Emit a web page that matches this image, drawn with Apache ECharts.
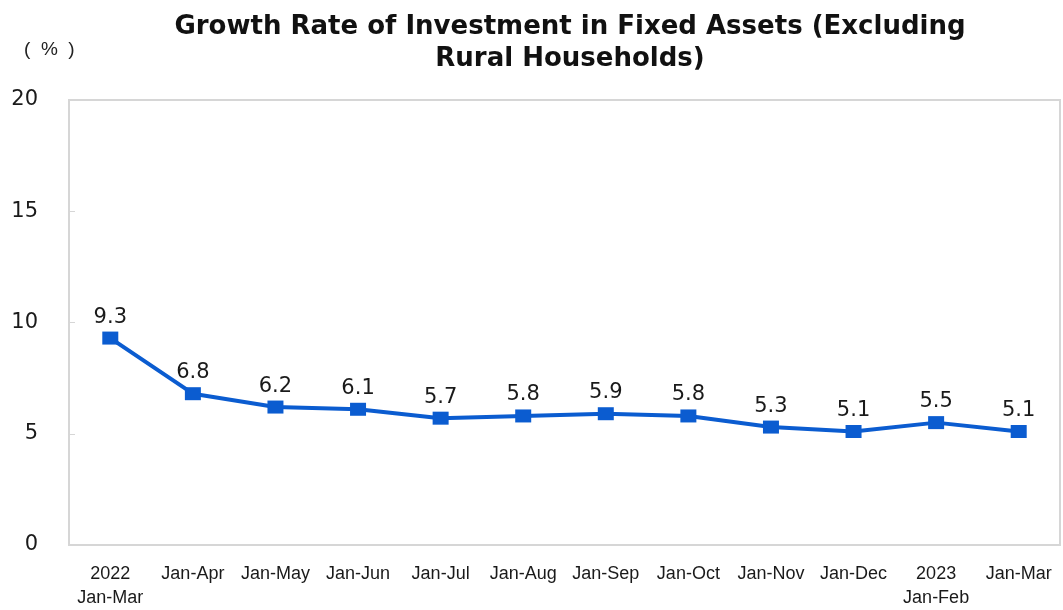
<!DOCTYPE html>
<html><head><meta charset="utf-8">
<script src="https://cdn.jsdelivr.net/npm/echarts@6/dist/echarts.min.js"></script>
<style>html,body{margin:0;padding:0;background:#fff;}#c{width:1063px;height:610px;}</style>
</head><body><div id="c"></div>
<script>
const categories = ['2022\nJan-Mar','Jan-Apr','Jan-May','Jan-Jun','Jan-Jul','Jan-Aug','Jan-Sep','Jan-Oct','Jan-Nov','Jan-Dec','2023\nJan-Feb','Jan-Mar'];
const growthRate = [9.3, 6.8, 6.2, 6.1, 5.7, 5.8, 5.9, 5.8, 5.3, 5.1, 5.5, 5.1];
const yTicks = [0, 5, 10, 15, 20];

const chart = echarts.init(document.getElementById('c'));
chart.setOption({
  animation: false,
  backgroundColor: '#fff',
  title: {
    text: 'Growth Rate of Investment in Fixed Assets (Excluding\nRural Households)',
    left: 565, top: 6, textAlign: 'center',
    textStyle: { fontFamily: 'DejaVu Sans', fontWeight: 'bold', fontSize: 26, color: '#111', lineHeight: 32 }
  },
  graphic: [{ type: 'text', left: 24, top: 40, style: { text: '(  %  )', font: '19px "Liberation Sans"', fill: '#222' } }],
  grid: { left: 69, right: 3, top: 100, bottom: 61, show: true, borderColor: '#d6d6d6', borderWidth: 2 },
  xAxis: {
    type: 'category', data: categories, boundaryGap: true,
    axisLine: { lineStyle: { color: '#d6d6d6', width: 2 } },
    axisTick: { inside: true, length: 4, lineStyle: { color: '#d6d6d6' } },
    axisLabel: { margin: 17, fontFamily: 'Liberation Sans', fontSize: 18, color: '#1a1a1a', lineHeight: 24, interval: 0 }
  },
  yAxis: {
    type: 'value', min: yTicks[0], max: yTicks[yTicks.length-1], interval: 5,
    splitLine: { show: false },
    axisLine: { show: true, lineStyle: { color: '#d6d6d6', width: 2 } },
    axisTick: { show: true, inside: true, length: 6, lineStyle: { color: '#d6d6d6' } },
    axisLabel: { margin: 31, fontFamily: 'DejaVu Sans', fontSize: 21, color: '#1a1a1a' }
  },
  series: [{
    type: 'line', data: growthRate,
    symbol: 'rect', symbolSize: [16, 13],
    lineStyle: { color: '#0b5cd0', width: 4 },
    itemStyle: { color: '#0b5cd0' },
    label: { show: true, position: 'top', distance: 4, fontFamily: 'DejaVu Sans', fontSize: 21, color: '#1a1a1a', formatter: p => p.value.toFixed(1) }
  }]
});
</script></body></html>
